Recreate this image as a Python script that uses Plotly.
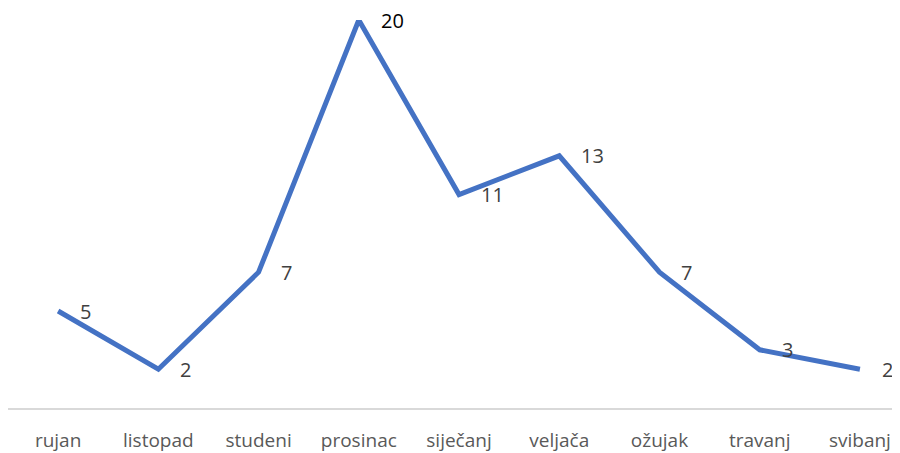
import plotly.graph_objects as go

months = ["rujan", "listopad", "studeni", "prosinac", "siječanj", "veljača", "ožujak", "travanj", "svibanj"]
values = [5, 2, 7, 20, 11, 13, 7, 3, 2]

fig = go.Figure()
fig.add_trace(go.Scatter(
    x=months, y=values, mode="lines",
    line=dict(color="#4472C4", width=5),
    cliponaxis=False, hoverinfo="skip",
))

for m, v in zip(months, values):
    fig.add_annotation(
        x=m, y=v, text=str(v), showarrow=False,
        xanchor="left", yanchor="middle", xshift=20, yshift=0,
        font=dict(family="Open Sans", size=20, color="#000000" if v == max(values) else "#404040"),
    )

fig.update_layout(
    width=884, height=445,
    margin=dict(l=0, r=0, t=12, b=45, autoexpand=False),
    paper_bgcolor="white", plot_bgcolor="white",
    showlegend=False,
    font=dict(family="Open Sans", size=19, color="#595959"),
)
fig.update_xaxes(
    type="category", range=[-0.5, 8.32], automargin=False,
    showgrid=False, zeroline=False,
    showline=True, linecolor="#D9D9D9", linewidth=1.5,
    ticks="", ticklabelstandoff=14,
    tickfont=dict(family="Open Sans", size=19, color="#595959"),
)
fig.update_yaxes(
    range=[0, 20], visible=False, showgrid=False, zeroline=False, automargin=False,
)

fig.write_html("out.html")
